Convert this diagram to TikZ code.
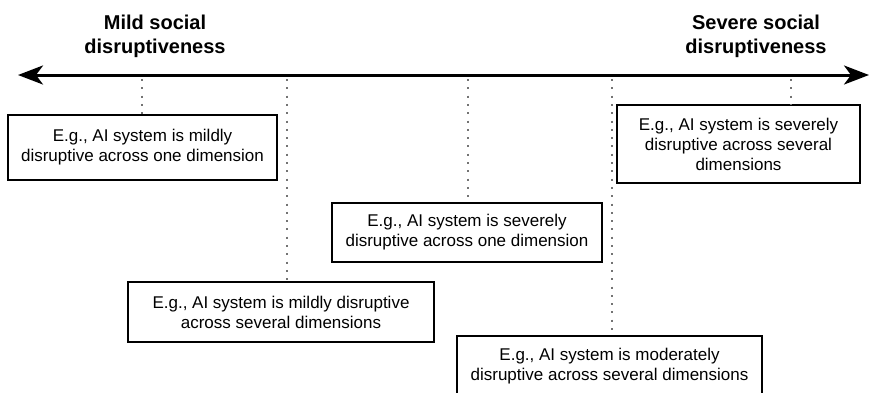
\documentclass[tikz,border=0pt]{standalone}
\usepackage{fontspec}
\setmainfont{Liberation Sans}
\usetikzlibrary{arrows.meta}
\tikzset{
  scalebox/.style={draw, line width=1.6pt, align=center, inner sep=0pt,
    font=\fontsize{17}{20}\selectfont},
  heading/.style={align=center, font=\bfseries\fontsize{20}{24}\selectfont},
  guide/.style={black!55, line width=2pt, dash pattern=on 2pt off 6.3pt},
  scaleaxis/.style={line width=3pt,
    {Stealth[length=25pt,width=19pt,inset=7pt]}-{Stealth[length=25pt,width=19pt,inset=7pt]}}
}
\begin{document}
\begin{tikzpicture}[x=1pt,y=-1pt]
  \useasboundingbox (0,0) rectangle (870,392);
  \draw
    (155,36) node[heading] (mild){Mild social\\disruptiveness}
    (756,36) node[heading] (severe){Severe social\\disruptiveness};
  \coordinate (lo) at (18,75);
  \coordinate (hi) at (869,75);
  \draw[scaleaxis] (lo) -- (hi);
  \node[scalebox, minimum width=269pt, minimum height=65pt] (b1) at (142.5,147.5)
    {E.g., AI system is mildly\\disruptive across one dimension};
  \node[scalebox, minimum width=306pt, minimum height=60pt] (b2) at (281,312)
    {E.g., AI system is mildly disruptive\\across several dimensions};
  \node[scalebox, minimum width=270pt, minimum height=59pt] (b3) at (467,232.5)
    {E.g., AI system is severely\\disruptive across one dimension};
  \node[scalebox, minimum width=305pt, minimum height=60pt] (b4) at (609.5,366)
    {E.g., AI system is moderately\\disruptive across several dimensions};
  \node[scalebox, minimum width=243pt, minimum height=78pt] (b5) at (738.5,144)
    {E.g., AI system is severely\\disruptive across several\\dimensions};
  \coordinate (t1) at (142,79);
  \coordinate (t2) at (287,79);
  \coordinate (t3) at (468,79);
  \coordinate (t4) at (612,79);
  \coordinate (t5) at (791,79);
  \begin{scope}[guide]
    \draw (t1) -- (t1 |- b1.north);
    \draw (t2) -- (t2 |- b2.north);
    \draw (t3) -- (t3 |- b3.north);
    \draw (t4) -- (t4 |- b4.north);
    \draw (t5) -- (t5 |- b5.north);
  \end{scope}
\end{tikzpicture}
\end{document}
